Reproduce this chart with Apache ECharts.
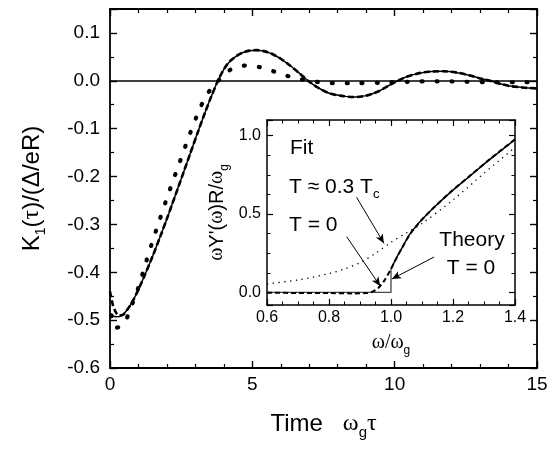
<!DOCTYPE html>
<html><head><meta charset="utf-8">
<script src="https://cdn.jsdelivr.net/npm/echarts@6/dist/echarts.min.js"></script>
<style>html,body{margin:0;padding:0;background:#fff}#c{width:557px;height:449px}</style>
</head><body><div id="c"></div>
<script>
// ---- main panel: K1(tau) ----
const solidT = [0,0.2,0.4,0.6,0.8,1.0,1.2,1.5,1.8,2.0,2.4,2.8,3.1,3.34,3.55,3.79,4.0,4.2,4.45,4.67,4.9,5.15,5.4,5.7,6.0,6.3,6.65,6.96,7.3,7.7,8.2,8.6,9.0,9.4,9.7,10.0,10.4,10.8,11.2,11.7,12.2,12.65,13.0,13.35,13.7,14.05,14.5,15];
const solidK = [-0.487,-0.493,-0.491,-0.479,-0.46,-0.436,-0.409,-0.366,-0.32,-0.288,-0.222,-0.155,-0.105,-0.066,-0.034,0,0.024,0.04,0.052,0.059,0.063,0.064,0.062,0.056,0.046,0.033,0.016,0,-0.014,-0.026,-0.032,-0.034,-0.031,-0.023,-0.013,-0.003,0.008,0.015,0.019,0.02,0.017,0.011,0.005,0,-0.006,-0.011,-0.014,-0.016];
const dashT = [0,0.1,0.2,0.3,0.45,0.6,0.8,1.0,1.2,1.5,1.8,2.0,2.4,2.8,3.1,3.34,3.55,3.79,4.0,4.2,4.45,4.67,4.9,5.15,5.4,5.7,6.0,6.3,6.65,6.96,7.3,7.7,8.2,8.6,9.0,9.4,9.7,10.0,10.4,10.8,11.2,11.7,12.2,12.65,13.0,13.35,13.7,14.05,14.5,15];
const dashK = [-0.44,-0.468,-0.483,-0.49,-0.489,-0.479,-0.46,-0.436,-0.409,-0.366,-0.32,-0.288,-0.222,-0.155,-0.105,-0.066,-0.034,0,0.024,0.04,0.052,0.059,0.063,0.064,0.062,0.056,0.046,0.033,0.016,0,-0.014,-0.026,-0.032,-0.034,-0.031,-0.023,-0.013,-0.003,0.008,0.015,0.019,0.02,0.017,0.011,0.005,0,-0.006,-0.011,-0.014,-0.016];
const dotT = [0.05,0.2,0.4,0.58,0.77,0.98,1.16,1.3,1.47,1.65,2.0,2.4,2.8,3.13,3.37,3.6,3.8,4.2,4.5,4.78,5.3,5.83,6.36,6.9,7.4,7.9,8.5,9.5,10.5,11.5,12.5,13.5,14.5,15];
const dotK = [-0.49,-0.516,-0.512,-0.497,-0.468,-0.435,-0.4,-0.372,-0.34,-0.307,-0.245,-0.178,-0.112,-0.062,-0.032,-0.013,0,0.022,0.029,0.032,0.028,0.018,0.008,0.001,-0.003,-0.005,-0.005,-0.004,-0.002,-0.001,-0.002,-0.003,-0.003,-0.003];

// ---- inset: omega Y'(omega) R / omega_g ----
const theoryW = [0.6,1.0,1.0];
const theoryY = [0,0,0.15];
const fitSolidW = [1.0,1.02,1.04,1.06,1.08,1.1,1.14,1.19,1.25,1.32,1.4];
const fitSolidY = [0.15,0.23,0.3,0.37,0.42,0.465,0.545,0.635,0.735,0.85,0.975];
const fitDashW = [0.6,0.7,0.8,0.88,0.92,0.94,0.96,0.98,1.0,1.02,1.04,1.06,1.08,1.1,1.14,1.19,1.25,1.32,1.4];
const fitDashY = [-0.002,-0.003,-0.004,-0.006,-0.004,0.005,0.03,0.08,0.15,0.228,0.3,0.368,0.42,0.465,0.545,0.637,0.737,0.852,0.977];
const warmW = [0.6,0.7,0.8,0.85,0.9,0.95,1.0,1.05,1.1,1.2,1.3,1.4];
const warmY = [0.055,0.08,0.12,0.15,0.19,0.25,0.32,0.38,0.44,0.59,0.76,0.925];

// arrows (inset data coordinates): [from, to]
const arrows = [
  [[0.889,0.607],[0.977,0.314]],
  [[0.857,0.356],[0.965,0.041]],
  [[1.139,0.226],[1.003,0.086]]
];

const SANS = '"Liberation Sans", Arial, sans-serif';
const SERIF = '"Liberation Serif", "Times New Roman", serif';
const zip = (xs, ys) => xs.map((x, i) => [x, ys[i]]);
const fmt1 = v => (Math.abs(v) < 1e-9 ? 0 : v).toFixed(1);

function frameAxis(extra) {
  return Object.assign({
    type: 'value',
    axisLine: { show: true, onZero: false, lineStyle: { color: '#000', width: 1.8 } },
    axisTick: { show: true, inside: true, length: 7, lineStyle: { color: '#000', width: 1.4 } },
    minorTick: { show: true, length: 4, lineStyle: { color: '#000', width: 1.2 } },
    splitLine: { show: false },
    minorSplitLine: { show: false }
  }, extra);
}

function titleRich(size, sub) {
  return {
    t: { fontSize: size, fontFamily: SANS, color: '#000', lineHeight: size + 8 },
    g: { fontSize: size, fontFamily: SERIF, color: '#000', lineHeight: size + 8 },
    s: { fontSize: sub || Math.round(size * 0.6), fontFamily: SANS, color: '#000', lineHeight: 12, verticalAlign: 'bottom' }
  };
}

const mainLabel = { fontSize: 19, color: '#000', fontFamily: SANS };
const insetLabel = { fontSize: 16, color: '#000', fontFamily: SANS };

const option = {
  animation: false,
  backgroundColor: '#fff',
  grid: [
    { left: 110, top: 9, width: 427, height: 359, show: false },
    { left: 267, top: 120, width: 248, height: 185, show: true, backgroundColor: '#fff', borderWidth: 0 }
  ],
  xAxis: [
    frameAxis({ gridIndex: 0, min: 0, max: 15, interval: 5, position: 'bottom',
      minorTick: { show: true, splitNumber: 5, length: 4, lineStyle: { color: '#000', width: 1.2 } },
      axisLabel: Object.assign({ margin: 7 }, mainLabel),
      name: '{t|Time   }{g|ω}{s|g}{g|τ}', nameLocation: 'middle', nameGap: 40,
      nameTextStyle: { rich: titleRich(24, 15) } }),
    frameAxis({ gridIndex: 0, min: 0, max: 15, interval: 5, position: 'top',
      minorTick: { show: true, splitNumber: 5, length: 4, lineStyle: { color: '#000', width: 1.2 } },
      axisLabel: { show: false } }),
    frameAxis({ gridIndex: 1, min: 0.6, max: 1.4, interval: 0.2, position: 'bottom',
      axisLine: { show: true, onZero: false, lineStyle: { color: '#000', width: 1.5 } },
      axisTick: { show: true, inside: true, length: 6, lineStyle: { color: '#000', width: 1.2 } },
      minorTick: { show: true, splitNumber: 4, length: 3.5, lineStyle: { color: '#000', width: 1 } },
      axisLabel: Object.assign({ margin: 5, formatter: fmt1 }, insetLabel),
      name: '{g|ω/ω}{s|g}', nameLocation: 'middle', nameGap: 24,
      nameTextStyle: { rich: titleRich(20) } }),
    frameAxis({ gridIndex: 1, min: 0.6, max: 1.4, interval: 0.2, position: 'top',
      axisLine: { show: true, onZero: false, lineStyle: { color: '#000', width: 1.5 } },
      axisTick: { show: true, inside: true, length: 6, lineStyle: { color: '#000', width: 1.2 } },
      minorTick: { show: true, splitNumber: 4, length: 3.5, lineStyle: { color: '#000', width: 1 } },
      axisLabel: { show: false } })
  ],
  yAxis: [
    frameAxis({ gridIndex: 0, min: -0.6, max: 0.15, interval: 0.1, position: 'left',
      minorTick: { show: true, splitNumber: 2, length: 4, lineStyle: { color: '#000', width: 1.2 } },
      axisLabel: Object.assign({ margin: 10, formatter: fmt1, showMaxLabel: false }, mainLabel),
      name: '{t|K}{s|1}{t|(}{g|τ}{t|)/(Δ/eR)}', nameLocation: 'middle', nameGap: 62,
      nameTextStyle: { rich: titleRich(24, 14) } }),
    frameAxis({ gridIndex: 0, min: -0.6, max: 0.15, interval: 0.1, position: 'right',
      minorTick: { show: true, splitNumber: 2, length: 4, lineStyle: { color: '#000', width: 1.2 } },
      axisLabel: { show: false } }),
    frameAxis({ gridIndex: 1, min: -0.08, max: 1.1, splitNumber: 2, position: 'left',
      axisLine: { show: true, onZero: false, lineStyle: { color: '#000', width: 1.5 } },
      axisTick: { show: true, inside: true, length: 6, lineStyle: { color: '#000', width: 1.2 } },
      minorTick: { show: true, splitNumber: 4, length: 3.5, lineStyle: { color: '#000', width: 1 } },
      axisLabel: Object.assign({ margin: 6, formatter: fmt1, showMinLabel: false, showMaxLabel: false }, insetLabel),
      name: '{g|ω}{t|Y\'(}{g|ω}{t|)R/}{g|ω}{s|g}', nameLocation: 'middle', nameGap: 36,
      nameTextStyle: { rich: titleRich(20) } }),
    frameAxis({ gridIndex: 1, min: -0.08, max: 1.1, splitNumber: 2, position: 'right',
      axisLine: { show: true, onZero: false, lineStyle: { color: '#000', width: 1.5 } },
      axisTick: { show: true, inside: true, length: 6, lineStyle: { color: '#000', width: 1.2 } },
      minorTick: { show: true, splitNumber: 4, length: 3.5, lineStyle: { color: '#000', width: 1 } },
      axisLabel: { show: false } })
  ],
  series: [
    { type: 'line', xAxisIndex: 0, yAxisIndex: 0, data: zip(solidT, solidK), smooth: 0.3, symbol: 'none',
      lineStyle: { color: '#000', width: 1.5 },
      markLine: { silent: true, symbol: ['none', 'none'], label: { show: false },
        lineStyle: { color: '#000', width: 1.5, type: 'solid' }, data: [{ yAxis: 0 }] } },
    { type: 'line', xAxisIndex: 0, yAxisIndex: 0, data: zip(dashT, dashK), smooth: 0.3, symbol: 'none',
      lineStyle: { color: '#000', width: 2.6, type: [6, 3] } },
    { type: 'line', xAxisIndex: 0, yAxisIndex: 0, data: zip(dotT, dotK), smooth: 0.3, symbol: 'none',
      lineStyle: { color: '#000', width: 4.2, type: [1, 14], cap: 'round' } },

    { type: 'line', xAxisIndex: 2, yAxisIndex: 2, data: zip(theoryW, theoryY), smooth: false, symbol: 'none', z: 3,
      lineStyle: { color: '#444', width: 1.3 },
      markLine: { silent: true, symbol: ['none', 'arrow'], symbolSize: [6, 9], label: { show: false },
        lineStyle: { color: '#000', width: 1, type: 'solid' },
        data: arrows.map(a => [{ coord: a[0] }, { coord: a[1] }]) } },
    { type: 'line', xAxisIndex: 2, yAxisIndex: 2, data: zip(fitSolidW, fitSolidY), smooth: 0.3, symbol: 'none', z: 3,
      lineStyle: { color: '#000', width: 1.5 } },
    { type: 'line', xAxisIndex: 2, yAxisIndex: 2, data: zip(fitDashW, fitDashY), smooth: 0.3, symbol: 'none', z: 3,
      lineStyle: { color: '#000', width: 2, type: [5, 3] } },
    { type: 'line', xAxisIndex: 2, yAxisIndex: 2, data: zip(warmW, warmY), smooth: 0.3, symbol: 'none', z: 3,
      lineStyle: { color: '#000', width: 1.3, type: [1.3, 4.5] } }
  ],
  graphic: [
    { type: 'text', x: 290, y: 148, z: 10, style: { text: 'Fit', fontSize: 21, fontFamily: SANS, fill: '#000', align: 'left', verticalAlign: 'middle' } },
    { type: 'text', x: 289, y: 187, z: 10, style: { text: '{t|T ≈ 0.3 T}{s|c}', align: 'left', verticalAlign: 'middle',
      rich: { t: { fontSize: 21, fontFamily: SANS, fill: '#000', lineHeight: 28 }, s: { fontSize: 13, fontFamily: SANS, fill: '#000', lineHeight: 12, verticalAlign: 'bottom' } } } },
    { type: 'text', x: 289, y: 225, z: 10, style: { text: 'T = 0', fontSize: 21, fontFamily: SANS, fill: '#000', align: 'left', verticalAlign: 'middle' } },
    { type: 'text', x: 472, y: 240, z: 10, style: { text: 'Theory', fontSize: 21, fontFamily: SANS, fill: '#000', align: 'center', verticalAlign: 'middle' } },
    { type: 'text', x: 471, y: 268, z: 10, style: { text: 'T = 0', fontSize: 21, fontFamily: SANS, fill: '#000', align: 'center', verticalAlign: 'middle' } }
  ]
};

const chart = echarts.init(document.getElementById('c'), null, { renderer: 'canvas' });
chart.setOption(option);
</script>
</body></html>
